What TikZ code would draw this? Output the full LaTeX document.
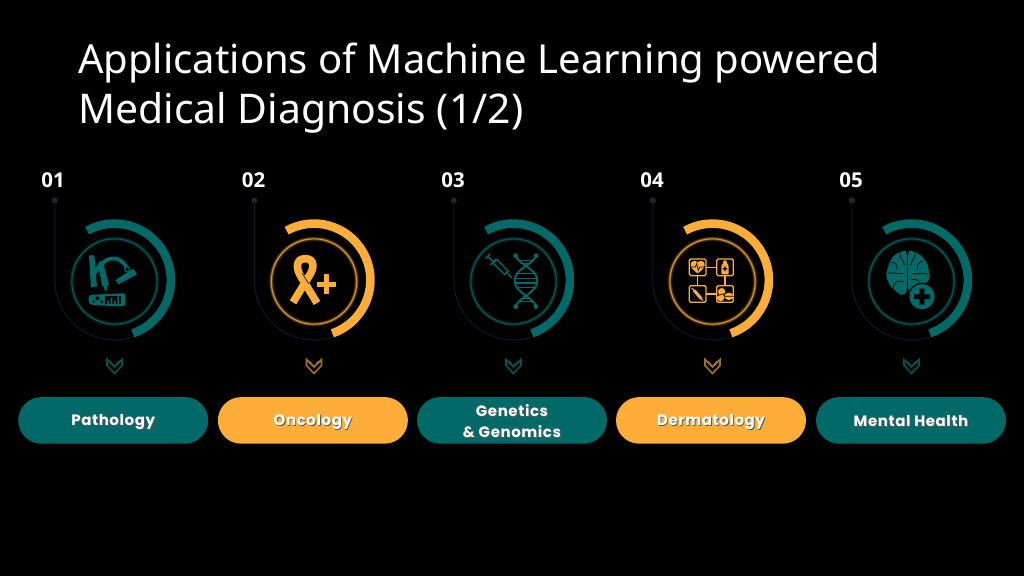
\documentclass[tikz,border=0pt]{standalone}
\usepackage{fontspec}
\setmainfont{Noto Sans}
\newfontfamily\pillfont[LetterSpace=4]{Poppins}
\newfontfamily\numfont{Open Sans}
\usetikzlibrary{calc}
\definecolor{tealc}{HTML}{016A68}
\definecolor{orangec}{HTML}{FDAD38}
\definecolor{trackc}{HTML}{0E1A24}
\definecolor{dotc}{HTML}{1B2A36}
\tikzset{
  pill/.style={fill=#1,rounded corners=23.3pt,minimum width=190pt,minimum height=46.6pt,inner sep=0pt,align=center,text=white,font=\pillfont\bfseries\fontsize{15}{21}\selectfont},
  numlabel/.style={text=white,font=\numfont\bfseries\fontsize{20.5}{22}\selectfont,inner sep=0pt},
  tdot/.style={circle,fill=dotc,minimum size=6pt,inner sep=0pt},
  iconbox/.style={draw=orangec,line width=1.3pt,rounded corners=1.5pt},
  titleone/.style={text=white,anchor=base west,inner sep=0pt,font=\fontsize{40}{50}\selectfont},
  titletwo/.style={text=white,anchor=base west,inner sep=0pt,font=\fontsize{40.9}{50}\selectfont}
}
\newcommand{\shtext}[1]{\leavevmode\rule[-2.8pt]{0pt}{18pt}\rlap{\kern0.9pt\raisebox{-0.9pt}{\textcolor{black!65}{#1}}}#1}
\newcommand{\panel}[4]{% centre x, colour, dim colour, index name
  \node[tdot] (d#4) at (#1-59.7,200.5) {};
  \draw[trackc,line width=1pt] (d#4.center) -- (#1-59.7,280) arc (180:71:60);
  \draw[#2,line width=8.6pt] (#1,280) ++(-119:56.4) arc (-119:71:56.4);
  \draw[#2,opacity=.14,line width=4.8pt] (#1,281.5) circle (42.7);
  \draw[#2,opacity=.28,line width=2.8pt] (#1,281.5) circle (42.7);
  \draw[#2!85!black,line width=1.1pt] (#1,281.5) circle (42.7);
  \draw[#3,line width=1.6pt,line join=miter] (#1-7.5,359.5) -- (#1-7.5,365.5) -- (#1,373.5) -- (#1+7.5,365.5) -- (#1+7.5,359.5) -- (#1,367) -- cycle;
  \draw[#3,line width=1.1pt] (#1-4.5,361) -- (#1,366.5) -- (#1+4.5,361);
}
\begin{document}
\begin{tikzpicture}[x=1pt,y=1pt,yscale=-1]
\useasboundingbox (0,0) rectangle (1024,576);
\fill[black] (0,0) rectangle (1024,576);

\node[titleone] (t1) at (78,73.3) {Applications of Machine Learning powered};
\node[titletwo] (t2) at (78,123.3) {Medical Diagnosis (1/2)};

\panel{114.5}{tealc}{tealc!80!black}{1}
\panel{314}{orangec}{orangec!65!black}{2}
\panel{513.5}{tealc}{tealc!80!black}{3}
\panel{712.5}{orangec}{orangec!65!black}{4}
\panel{911.5}{tealc}{tealc!80!black}{5}

\node[numlabel] (n1) at (53,180.5) {01};
\node[numlabel] (n2) at (253.5,180.5) {02};
\node[numlabel] (n3) at (453,180.5) {03};
\node[numlabel] (n4) at (652,180.5) {04};
\node[numlabel] (n5) at (851,180.5) {05};

\node[pill=tealc] (p1) at (113.2,420.4) {\shtext{Pathology}};
\node[pill=orangec] (p2) at (312.9,420.4) {\shtext{Oncology}};
\node[pill=tealc] (p3) at (512,420.4) {\shtext{Genetics}\\\shtext{\& Genomics}};
\node[pill=orangec] (p4) at (711,420.4) {\shtext{Dermatology}};
\node[pill=tealc] (p5) at (911,420.4) {\shtext{Mental Health}};

% icon 1: microscope and test tube
\begin{scope}[shift={(80,245)},scale=1/3]
  \fill[tealc] (27,31) -- (43,31) -- (51,124) -- (33,127) -- cycle;
  \fill[tealc] (44,72) -- (62,46) -- (70,60) -- (46,92) -- cycle;
  \draw[tealc,line width=3.8pt] (64,62) .. controls (75,36) and (120,28) .. (140,68);
  \fill[tealc] (55,62) -- (71,58) -- (87,120) -- (81,122) -- (81,137) -- (74,137) -- (72,124) -- (67,124) -- cycle;
  \fill[tealc] (106,105) -- (160,71) -- (171,88) -- (116,118) -- cycle;
  \fill[black] (142,73) circle (9);
  \draw[tealc,line width=1.3pt] (142,73) circle (7.5);
  \fill[tealc,rounded corners=3pt] (26,150) -- (122,145) -- (137,144) -- (137,184) -- (44,181) -- (26,177) -- cycle;
  \fill[black] (76,152) rectangle (124,177);
  \fill[tealc] (82,166) rectangle (87,177) (92,158) rectangle (97,177) (102,167) rectangle (107,177) (112,154) rectangle (117,177);
  \fill[black] (52,160) circle (6) (65,170) circle (5) (41,170) circle (4);
\end{scope}

% icon 2: ribbon and plus
\begin{scope}[shift={(280,245)},scale=1/3]
  \draw[orangec,line width=7.6pt] (111,174) -- (63,95) .. controls (47,70) and (47,41) .. (76,41) .. controls (105,41) and (103,70) .. (88,92) -- (39,172);
  \draw[black,line width=.6pt] (66,84) -- (86,116);
  \fill[orangec] (132,88) rectangle (148,148);
  \fill[orangec] (112,110) rectangle (168,126);
\end{scope}

% icon 3: syringe and DNA
\begin{scope}[shift={(480,245)},scale=1/3]
  \begin{scope}[tealc,line width=1.4pt]
    \draw (16,42) -- (30,26);
    \draw (23,34) -- (40,50);
    \draw (30,60) -- (48,42);
    \draw (38,54) -- (52,44) -- (84,78) -- (74,88) -- cycle;
    \draw (80,82) -- (96,99);
  \end{scope}
  \draw[tealc,line width=1.9pt] (107,32) .. controls (115,60) and (172,70) .. (172,107) .. controls (172,145) and (115,155) .. (107,185);
  \draw[tealc,line width=1.9pt] (168,32) .. controls (160,60) and (104,70) .. (104,107) .. controls (104,145) and (160,155) .. (168,185);
  \fill[tealc] (107,32) circle (7) (168,32) circle (7) (107,185) circle (7) (168,185) circle (7);
  \draw[tealc,line width=1.4pt] (120,46) -- (155,46) (128,56) -- (147,56) (112,86) -- (164,86) (105,100) -- (171,100) (105,114) -- (171,114) (112,128) -- (164,128) (128,160) -- (147,160) (120,170) -- (155,170);
\end{scope}

% icon 4: four linked boxes
\begin{scope}[shift={(680,245)},scale=1/3]
  \draw[iconbox] (28,42) rectangle (78,92);
  \draw[iconbox] (110,42) rectangle (160,92);
  \draw[iconbox] (28,122) rectangle (78,172);
  \draw[iconbox] (110,122) rectangle (160,172);
  \draw[orangec,line width=1.3pt] (78,67) -- (110,67) (53,92) -- (53,122) (135,92) -- (135,122) (78,147) -- (110,147);
  \fill[orangec] (53,85) .. controls (38,75) and (31,66) .. (32,57) .. controls (34,46) and (48,45) .. (53,53) .. controls (58,45) and (72,46) .. (74,57) .. controls (75,66) and (68,75) .. (53,85) -- cycle;
  \draw[black,line width=.7pt] (33,66) -- (46,66) -- (50,56) -- (55,76) -- (59,66) -- (73,66);
  \fill[orangec,rounded corners=1pt] (130,46) -- (140,46) -- (140,54) -- (146,62) -- (146,88) -- (124,88) -- (124,62) -- (130,54) -- cycle;
  \fill[black] (133,64) rectangle (137,78) (128,69) rectangle (142,73);
  \draw[orangec,line width=3pt,line cap=round] (43,137) -- (63,160);
  \draw[orangec,line width=1pt] (35,129) -- (44,138) (63,160) -- (69,167);
  \fill[orangec] (125,140) circle (11) (122,158) circle (11);
  \fill[orangec] (147,154) ellipse (14 and 11);
  \draw[black,line width=.7pt] (133,154) -- (161,154) (112,152) -- (132,146);
\end{scope}

% icon 5: brain and plus
\begin{scope}[shift={(880,245)},scale=1/3]
  \fill[tealc] plot[smooth cycle,tension=.6] coordinates {(80,26) (62,22) (46,29) (33,44) (25,64) (19,90) (27,116) (44,135) (62,149) (72,146) (80,132)};
  \fill[tealc] plot[smooth cycle,tension=.6] coordinates {(85,26) (104,22) (122,31) (138,50) (147,76) (147,104) (120,124) (95,130) (85,132)};
  \draw[black,line width=.7pt] (60,26) .. controls (58,40) and (70,45) .. (74,60) (32,52) .. controls (45,50) and (55,60) .. (50,75) (24,85) .. controls (40,80) and (55,90) .. (68,85) (40,130) .. controls (40,110) and (55,105) .. (70,110) (105,26) .. controls (106,40) and (95,45) .. (92,60) (130,48) .. controls (118,50) and (108,60) .. (112,75) (145,88) .. controls (130,82) and (110,90) .. (96,85) (92,105) .. controls (100,100) and (110,102) .. (118,110);
  \fill[black] (126,155) circle (42);
  \fill[tealc] (126,155) circle (38);
  \fill[black] (119,131) rectangle (133,179) (102,148) rectangle (150,162);
\end{scope}
\end{tikzpicture}
\end{document}
